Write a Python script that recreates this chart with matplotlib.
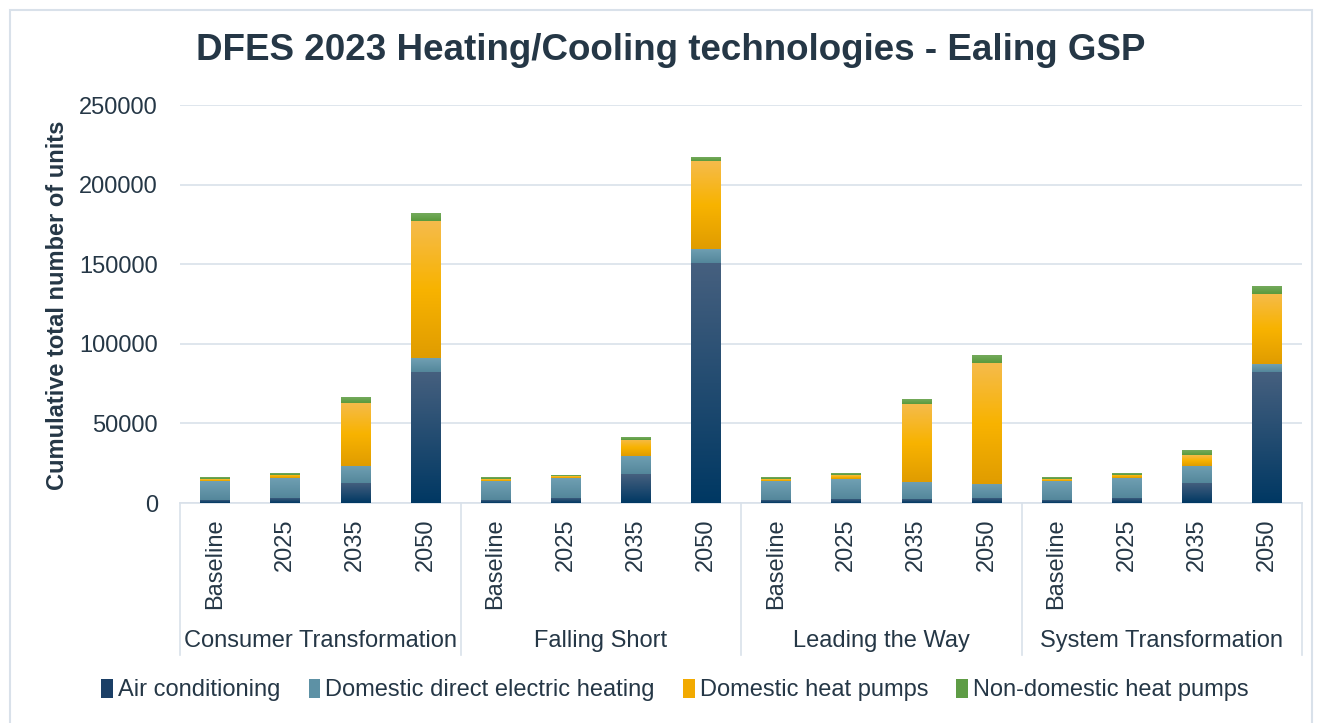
import matplotlib
matplotlib.use('Agg')
import matplotlib.pyplot as plt
import numpy as np
from matplotlib.colors import LinearSegmentedColormap
from matplotlib.patches import Rectangle, Patch

plt.rcParams['font.family'] = ['Liberation Sans', 'DejaVu Sans']

# data ------------------------------------------------------------
scenarios = ['Consumer Transformation', 'Falling Short', 'Leading the Way', 'System Transformation']
years = ['Baseline', '2025', '2035', '2050']

air_conditioning = [2000, 3300, 12700, 82300,
                    2000, 3300, 18200, 150500,
                    1900, 2700, 2700, 3300,
                    2000, 3300, 12600, 82200]
direct_electric = [11800, 12600, 10700, 8700,
                   11800, 12600, 11500, 9000,
                   11900, 12400, 10700, 8800,
                   11800, 12600, 10800, 4900]
domestic_hp = [1000, 1900, 39600, 86000,
               1000, 1200, 10100, 55200,
               1100, 2500, 48800, 75800,
               1000, 1900, 6700, 44300]
non_domestic_hp = [900, 1000, 3600, 4900,
                   900, 500, 1600, 2400,
                   800, 1200, 3100, 5000,
                   900, 1000, 2600, 4400]

series = [
    ('Air conditioning', air_conditioning, ['#003863', '#46607f'], '#1b3f66'),
    ('Domestic direct electric heating', direct_electric, ['#54879b', '#70a0b3'], '#5d91a5'),
    ('Domestic heat pumps', domestic_hp, ['#e09c00', '#f8b300', '#f5bb4c'], '#f2aa00'),
    ('Non-domestic heat pumps', non_domestic_hp, ['#5a9a3c', '#74aa5c'], '#5e9c45'),
]

text_col = '#253746'
grid_col = '#d9e1ea'
fs = 17

# figure ----------------------------------------------------------
W, H = 1320, 723
fig = plt.figure(figsize=(W / 100, H / 100), dpi=100)
ax = fig.add_axes([180 / W, 1 - 503 / H, 1122 / W, 398 / H])

x = np.arange(len(air_conditioning))
width = 0.42
bottom = np.zeros(len(x))
for name, vals, stops, _ in series:
    vals = np.array(vals, dtype=float)
    bars = ax.bar(x, vals, width, bottom=bottom, color=stops[0], linewidth=0, zorder=2)
    cmap = LinearSegmentedColormap.from_list(name, stops)
    grad = np.linspace(0, 1, 256).reshape(-1, 1)
    # vertical gradient on each segment
    for b in bars:
        if b.get_height() <= 0:
            continue
        x0 = b.get_x()
        y0 = b.get_y()
        ax.imshow(grad, cmap=cmap, origin='lower', aspect='auto',
                  extent=[x0, x0 + b.get_width(), y0, y0 + b.get_height()],
                  interpolation='bilinear', zorder=3)
    bottom += vals

ax.set_xlim(-0.5, len(x) - 0.5)
ax.set_ylim(0, 250000)
ax.set_yticks(np.arange(0, 250001, 50000))
ax.yaxis.grid(True, color=grid_col, linewidth=1.2, zorder=0)
ax.set_axisbelow(True)
for s in ['top', 'right', 'left']:
    ax.spines[s].set_visible(False)
ax.spines['bottom'].set_color(grid_col)
ax.spines['bottom'].set_linewidth(1.2)
ax.tick_params(axis='y', length=0, pad=16, labelsize=fs, labelcolor=text_col)

ax.set_xticks(x)
ax.set_xticklabels(years * len(scenarios), rotation=90, va='top', ha='center')
ax.tick_params(axis='x', length=0, pad=11, labelsize=fs, labelcolor=text_col)

# category group boxes
tr = ax.get_xaxis_transform()
for b in np.arange(-0.5, len(x), 4):
    ax.plot([b, b], [0, -0.382], transform=tr, color=grid_col, lw=1.2, clip_on=False)
for i, sc in enumerate(scenarios):
    ax.text(i * 4 + 1.5, -0.346, sc, transform=tr, ha='center', va='center',
            fontsize=fs, color=text_col)

fig.text(671 / W, 1 - 51 / H, 'DFES 2023 Heating/Cooling technologies - Ealing GSP',
         ha='center', va='center', fontsize=26.5, fontweight='bold', color=text_col)
fig.text(58 / W, 1 - 305 / H, 'Cumulative total number of units', rotation=90,
         ha='center', va='center', fontsize=fs, fontweight='bold', color=text_col)

handles = [Patch(facecolor=c, edgecolor='none', label=n) for n, _, _, c in series]
fig.legend(handles=handles, loc='center', bbox_to_anchor=(675 / W, 1 - 690 / H), ncol=4,
           frameon=False, fontsize=fs, handlelength=0.5, handleheight=0.85,
           handletextpad=0.2, columnspacing=1.2, labelcolor=text_col)

# outer chart frame
fig.patches.append(Rectangle((10 / W, -0.05), 1302 / W, 1.05 - 10 / H, transform=fig.transFigure,
                             fill=False, edgecolor=grid_col, lw=1.5))

fig.savefig('out.png', dpi=100)
